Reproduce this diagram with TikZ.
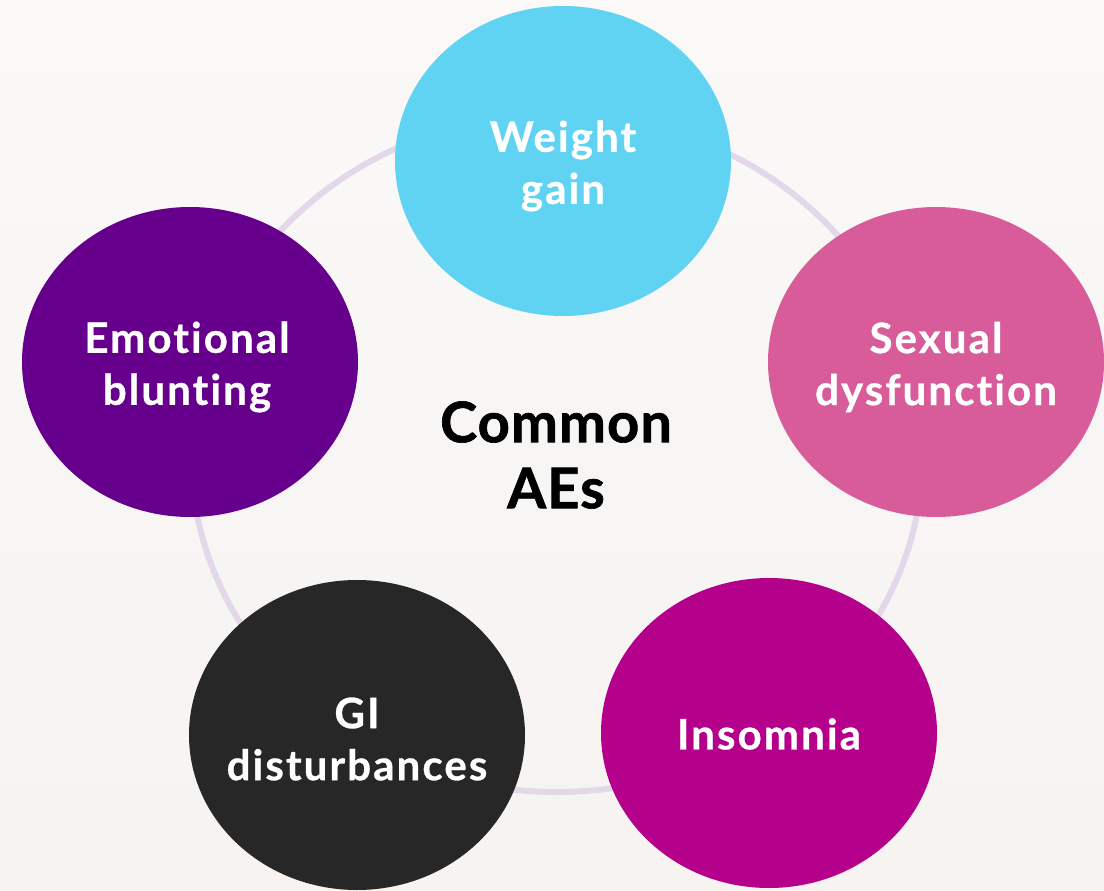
\documentclass[tikz,border=0pt]{standalone}
\usepackage{fontspec}
\setmainfont{Lato}
\newfontfamily\lblfont{Lato}[LetterSpace=5, FakeBold=0.7, Ligatures=NoCommon]
\newfontfamily\ctrfont{Lato}[LetterSpace=2, FakeBold=1.2, Ligatures=NoCommon]
\usetikzlibrary{shapes.geometric}
\definecolor{bgtop}{HTML}{FAF9F8}
\definecolor{bgbot}{HTML}{F6F3F1}
\definecolor{ringc}{HTML}{E3D7EA}
\definecolor{cwg}{HTML}{61D3F2}
\definecolor{csd}{HTML}{D85C9A}
\definecolor{cin}{HTML}{B5008C}
\definecolor{cgi}{HTML}{272727}
\definecolor{ceb}{HTML}{66008C}
\begin{document}
\begin{tikzpicture}[x=1pt,y=-1pt,
  blob/.style={ellipse, minimum width=336pt, minimum height=310pt, inner sep=0pt, draw=none},
  lbl/.style={text=white, font=\lblfont\fontsize{42}{52}\selectfont\bfseries, align=center, inner sep=0pt},
  ctr/.style={text=black, font=\ctrfont\fontsize{56}{66}\selectfont\bfseries, align=center, inner sep=0pt}]
\useasboundingbox (0,0) rectangle (1104,891);
\shade[top color=bgtop, bottom color=bgbot] (0,0) rectangle (1104,891);
\coordinate (o) at (557,453);
\draw[ringc, line width=6pt] (o) ellipse [x radius=366pt, y radius=339pt];
\node[blob, fill=cwg] (wg) at (563,161) {};
\node[blob, fill=csd] (sd) at (936,362) {};
\node[blob, fill=cin] (in) at (769,733) {};
\node[blob, fill=cgi] (gi) at (357,735) {};
\node[blob, fill=ceb] (eb) at (190,362) {};
\node[lbl, yshift=-5pt] (wgt) at (wg) {Weight\\gain};
\node[lbl, yshift=-5pt] (sdt) at (sd) {Sexual\\dysfunction};
\node[lbl, yshift=-1pt] (int) at (in) {Insomnia};
\node[lbl, yshift=-4pt] (git) at (gi) {GI\\disturbances};
\node[lbl, yshift=-5pt, xshift=-3pt] (ebt) at (eb) {Emotional\\blunting};
\node[ctr] (c) at (556,455) {Common\\AEs};
\end{tikzpicture}
\end{document}
